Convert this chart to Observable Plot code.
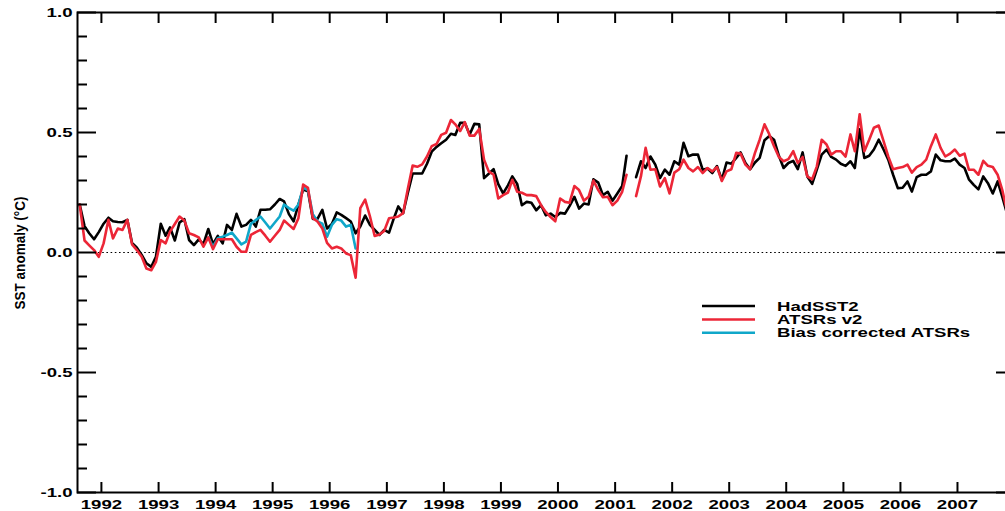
<!DOCTYPE html>
<html>
<head>
<meta charset="utf-8">
<script src="https://cdn.jsdelivr.net/npm/d3@7"></script>
<script src="https://cdn.jsdelivr.net/npm/@observablehq/plot@0.6"></script>
<style>
  html, body { margin: 0; padding: 0; background: #fff; overflow: hidden; }
  #chart svg { display: block; overflow: hidden; }
</style>
</head>
<body>
<div id="chart"></div>
<script>
// ---- Data (monthly anomalies, first month = Aug 1991) ----
const firstYear = 1991;
const firstMonth = 7; // August (0-based)

const hadsst2 = [
  0.20, 0.11, 0.08, 0.055, 0.085, 0.12, 0.145, 0.13, 0.127, 0.126,
  0.136, 0.04, 0.02, -0.01, -0.045, -0.06, -0.018, 0.12, 0.07, 0.105,
  0.05, 0.125, 0.139, 0.052, 0.031, 0.055, 0.035, 0.098, 0.035, 0.069,
  0.038, 0.115, 0.094, 0.161, 0.108, 0.115, 0.136, 0.108, 0.178, 0.178,
  0.18, 0.2, 0.223, 0.213, 0.16, 0.13, 0.2, 0.262, 0.255, 0.14,
  0.14, 0.178, 0.1, 0.119, 0.167, 0.157, 0.143, 0.129, 0.08, 0.108,
  0.154, 0.115, 0.094, 0.073, 0.094, 0.083, 0.143, 0.192, 0.164, 0.248,
  0.329, 0.329, 0.329, 0.37, 0.42, 0.44, 0.455, 0.47, 0.495, 0.49,
  0.54, 0.54, 0.492, 0.536, 0.534, 0.31, 0.328, 0.347, 0.285, 0.246,
  0.28, 0.317, 0.286, 0.197, 0.211, 0.207, 0.176, 0.197, 0.155, 0.162,
  0.148, 0.165, 0.162, 0.193, 0.232, 0.183, 0.204, 0.2, 0.305, 0.291,
  0.239, 0.253, 0.216, 0.246, 0.277, 0.403, null, 0.314, 0.38, 0.352,
  0.4, 0.366, 0.31, 0.345, 0.324, 0.38, 0.366, 0.457, 0.401, 0.408,
  0.408, 0.345, 0.35, 0.331, 0.36, 0.303, 0.375, 0.37, 0.394, 0.417,
  0.373, 0.347, 0.375, 0.394, 0.468, 0.485, 0.47, 0.403, 0.352, 0.373,
  0.382, 0.347, 0.417, 0.317, 0.286, 0.345, 0.408, 0.429, 0.398, 0.387,
  0.37, 0.361, 0.38, 0.352, 0.513, 0.394, 0.403, 0.429, 0.47, 0.429,
  0.387, 0.324, 0.268, 0.27, 0.296, 0.254, 0.314, 0.324, 0.324, 0.338,
  0.408, 0.384, 0.38, 0.38, 0.391, 0.366, 0.352, 0.305, 0.282, 0.263,
  0.317, 0.289, 0.246, 0.296, 0.232, 0.16
];

const atsrV2 = [
  0.2, 0.05, 0.03, 0.01, -0.018, 0.038, 0.136, 0.059, 0.1, 0.094,
  0.136, 0.034, 0.01, -0.018, -0.067, -0.074, -0.039, 0.052, 0.038, 0.087,
  0.119, 0.15, 0.133, 0.08, 0.073, 0.063, 0.024, 0.063, 0.014, 0.055,
  0.055, 0.055, 0.055, 0.024, 0.003, 0.003, 0.073, 0.085, 0.094, 0.07,
  0.045, 0.07, 0.094, 0.133, 0.115, 0.098, 0.143, 0.283, 0.269, 0.143,
  0.129, 0.1, 0.04, 0.017, 0.024, 0.017, -0.004, -0.011, -0.105, 0.185,
  0.22, 0.15, 0.069, 0.075, 0.09, 0.143, 0.146, 0.15, 0.164, 0.265,
  0.362, 0.357, 0.367, 0.4, 0.443, 0.452, 0.49, 0.499, 0.552, 0.534,
  0.506, 0.543, 0.487, 0.487, 0.515, 0.387, 0.338, 0.324, 0.225, 0.239,
  0.25, 0.303, 0.253, 0.249, 0.239, 0.239, 0.235, 0.197, 0.169, 0.148,
  0.13, 0.225, 0.211, 0.207, 0.277, 0.26, 0.216, 0.232, 0.3, 0.26,
  0.23, 0.232, 0.197, 0.216, 0.253, 0.324, null, 0.235, 0.317, 0.436,
  0.345, 0.347, 0.275, 0.31, 0.246, 0.333, 0.347, 0.387, 0.352, 0.338,
  0.356, 0.331, 0.352, 0.338, 0.356, 0.298, 0.338, 0.347, 0.415, 0.412,
  0.366, 0.347, 0.415, 0.47, 0.534, 0.492, 0.443, 0.398, 0.38, 0.389,
  0.422, 0.373, 0.398, 0.317, 0.305, 0.359, 0.47, 0.45, 0.408, 0.422,
  0.422, 0.4, 0.492, 0.422, 0.576, 0.422, 0.47, 0.52, 0.529, 0.464,
  0.4, 0.347, 0.352, 0.356, 0.366, 0.333, 0.356, 0.366, 0.387, 0.443,
  0.492, 0.436, 0.4, 0.412, 0.429, 0.403, 0.412, 0.345, 0.345, 0.324,
  0.382, 0.361, 0.356, 0.324, 0.26, 0.17
];

const biasStartIndex = 27; // Nov 1993
const biasCorrected = [
  0.063, 0.024, 0.059, 0.066, 0.073, 0.083, 0.059, 0.034, 0.045, 0.12,
  0.135, 0.15, 0.125, 0.1, 0.125, 0.15, 0.2, 0.185, 0.174, 0.2,
  0.27, 0.26, 0.16, 0.13, 0.12, 0.066, 0.115, 0.139, 0.133, 0.108,
  0.115, 0.017
];

const seriesNames = ["HadSST2", "ATSRs v2", "Bias corrected ATSRs"];
const seriesColors = ["#000000", "#ec2637", "#10a7c9"];

const yMajorTicks = [-1, -0.5, 0, 0.5, 1];
const yMinorTicks = [-0.9, -0.8, -0.7, -0.6, -0.4, -0.3, -0.2, -0.1, 0.1, 0.2, 0.3, 0.4, 0.6, 0.7, 0.8, 0.9];
const tickYears = d3.range(1992, 2008);
const yAxisTitle = "SST anomaly (°C)";

// ---- Build rows ----
const monthDate = i => new Date(Date.UTC(firstYear, firstMonth + i, 15));
const toRows = (vals, offset = 0) => vals.map((v, i) => ({date: monthDate(i + offset), value: v}));
const rowsHad = toRows(hadsst2);
const rowsAtsr = toRows(atsrV2);
const rowsBias = toRows(biasCorrected, biasStartIndex);
const yearDates = tickYears.map(y => new Date(Date.UTC(y, 0, 1)));

const STRETCH = 1.43;

const plot = Plot.plot({
  width: 1005,
  height: 511,
  marginLeft: 77,
  marginRight: -9,
  marginTop: 12,
  marginBottom: 19,
  x: {type: "utc", domain: [new Date(Date.UTC(1991, 7, 1)), new Date(Date.UTC(2008, 0, 1))], label: null},
  y: {domain: [-1, 1], label: null},
  style: {fontFamily: "'Liberation Sans', Arial, Helvetica, sans-serif", fontSize: "13px", fontWeight: "bold", color: "#000", background: "#fff", overflow: "hidden"},
  marks: [
    Plot.ruleY([0], {stroke: "#000", strokeWidth: 1, strokeDasharray: "1.6,2.6"}),
    Plot.lineY(rowsHad, {x: "date", y: "value", stroke: seriesColors[0], strokeWidth: 2.6}),
    Plot.lineY(rowsBias, {x: "date", y: "value", stroke: seriesColors[2], strokeWidth: 2.6}),
    Plot.lineY(rowsAtsr, {x: "date", y: "value", stroke: seriesColors[1], strokeWidth: 2.6}),
    // y axes (ticks inward)
    Plot.axisY({anchor: "left", ticks: yMajorTicks, tickSize: -19, strokeWidth: 2, tickFormat: () => ""}),
    Plot.axisY({anchor: "left", ticks: yMinorTicks, tickSize: -10, strokeWidth: 2, tickFormat: () => ""}),
    Plot.axisY({anchor: "right", ticks: yMajorTicks, tickSize: -19, strokeWidth: 2, tickFormat: () => ""}),
    Plot.axisY({anchor: "right", ticks: yMinorTicks, tickSize: -10, strokeWidth: 2, tickFormat: () => ""}),
    Plot.axisY({anchor: "left", ticks: yMajorTicks, tickSize: 0, tickPadding: 5, tickFormat: d => d.toFixed(1)}),
    // x axes
    Plot.axisX({anchor: "top", ticks: yearDates, tickSize: -10, strokeWidth: 2, tickFormat: () => ""}),
    Plot.axisX({anchor: "bottom", ticks: yearDates, tickSize: -10, strokeWidth: 2, tickFormat: () => ""}),
    Plot.axisX({anchor: "bottom", ticks: yearDates, tickSize: 0, tickPadding: 7, tickFormat: d3.utcFormat("%Y")}),
    Plot.frame({stroke: "#000", strokeWidth: 2})
  ]
});

document.getElementById("chart").appendChild(plot);
const svg = d3.select(plot);

// Stretch the wide bold tick labels
svg.selectAll('g[aria-label$="tick label"] text').each(function () {
  const w = this.getComputedTextLength();
  if (w > 0) {
    this.setAttribute("textLength", (w * STRETCH).toFixed(1));
    this.setAttribute("lengthAdjust", "spacingAndGlyphs");
  }
});

// Y axis title (condensed)
const yt = svg.append("text")
  .attr("transform", "translate(19,253) rotate(-90)")
  .attr("text-anchor", "middle")
  .attr("dominant-baseline", "central")
  .style("font-family", "'Liberation Sans', Arial, sans-serif")
  .style("font-size", "15px")
  .style("font-weight", "bold")
  .attr("fill", "#000")
  .text(yAxisTitle);
yt.attr("textLength", 113).attr("lengthAdjust", "spacingAndGlyphs");

// Legend
const legend = svg.append("g").attr("aria-label", "legend").attr("text-anchor", "start");
seriesNames.forEach((name, i) => {
  const cy = 306 + i * 13.4;
  legend.append("line")
    .attr("x1", 702).attr("x2", 755)
    .attr("y1", cy).attr("y2", cy)
    .attr("stroke", seriesColors[i]).attr("stroke-width", 2.5);
  const t = legend.append("text")
    .attr("x", 777).attr("y", cy + 4.6)
    .attr("text-anchor", "start")
    .style("font-size", "13px").style("font-weight", "bold")
    .attr("fill", "#000")
    .text(name);
  const w = t.node().getComputedTextLength();
  t.attr("textLength", (w * STRETCH).toFixed(1)).attr("lengthAdjust", "spacingAndGlyphs");
});
</script>
</body>
</html>
